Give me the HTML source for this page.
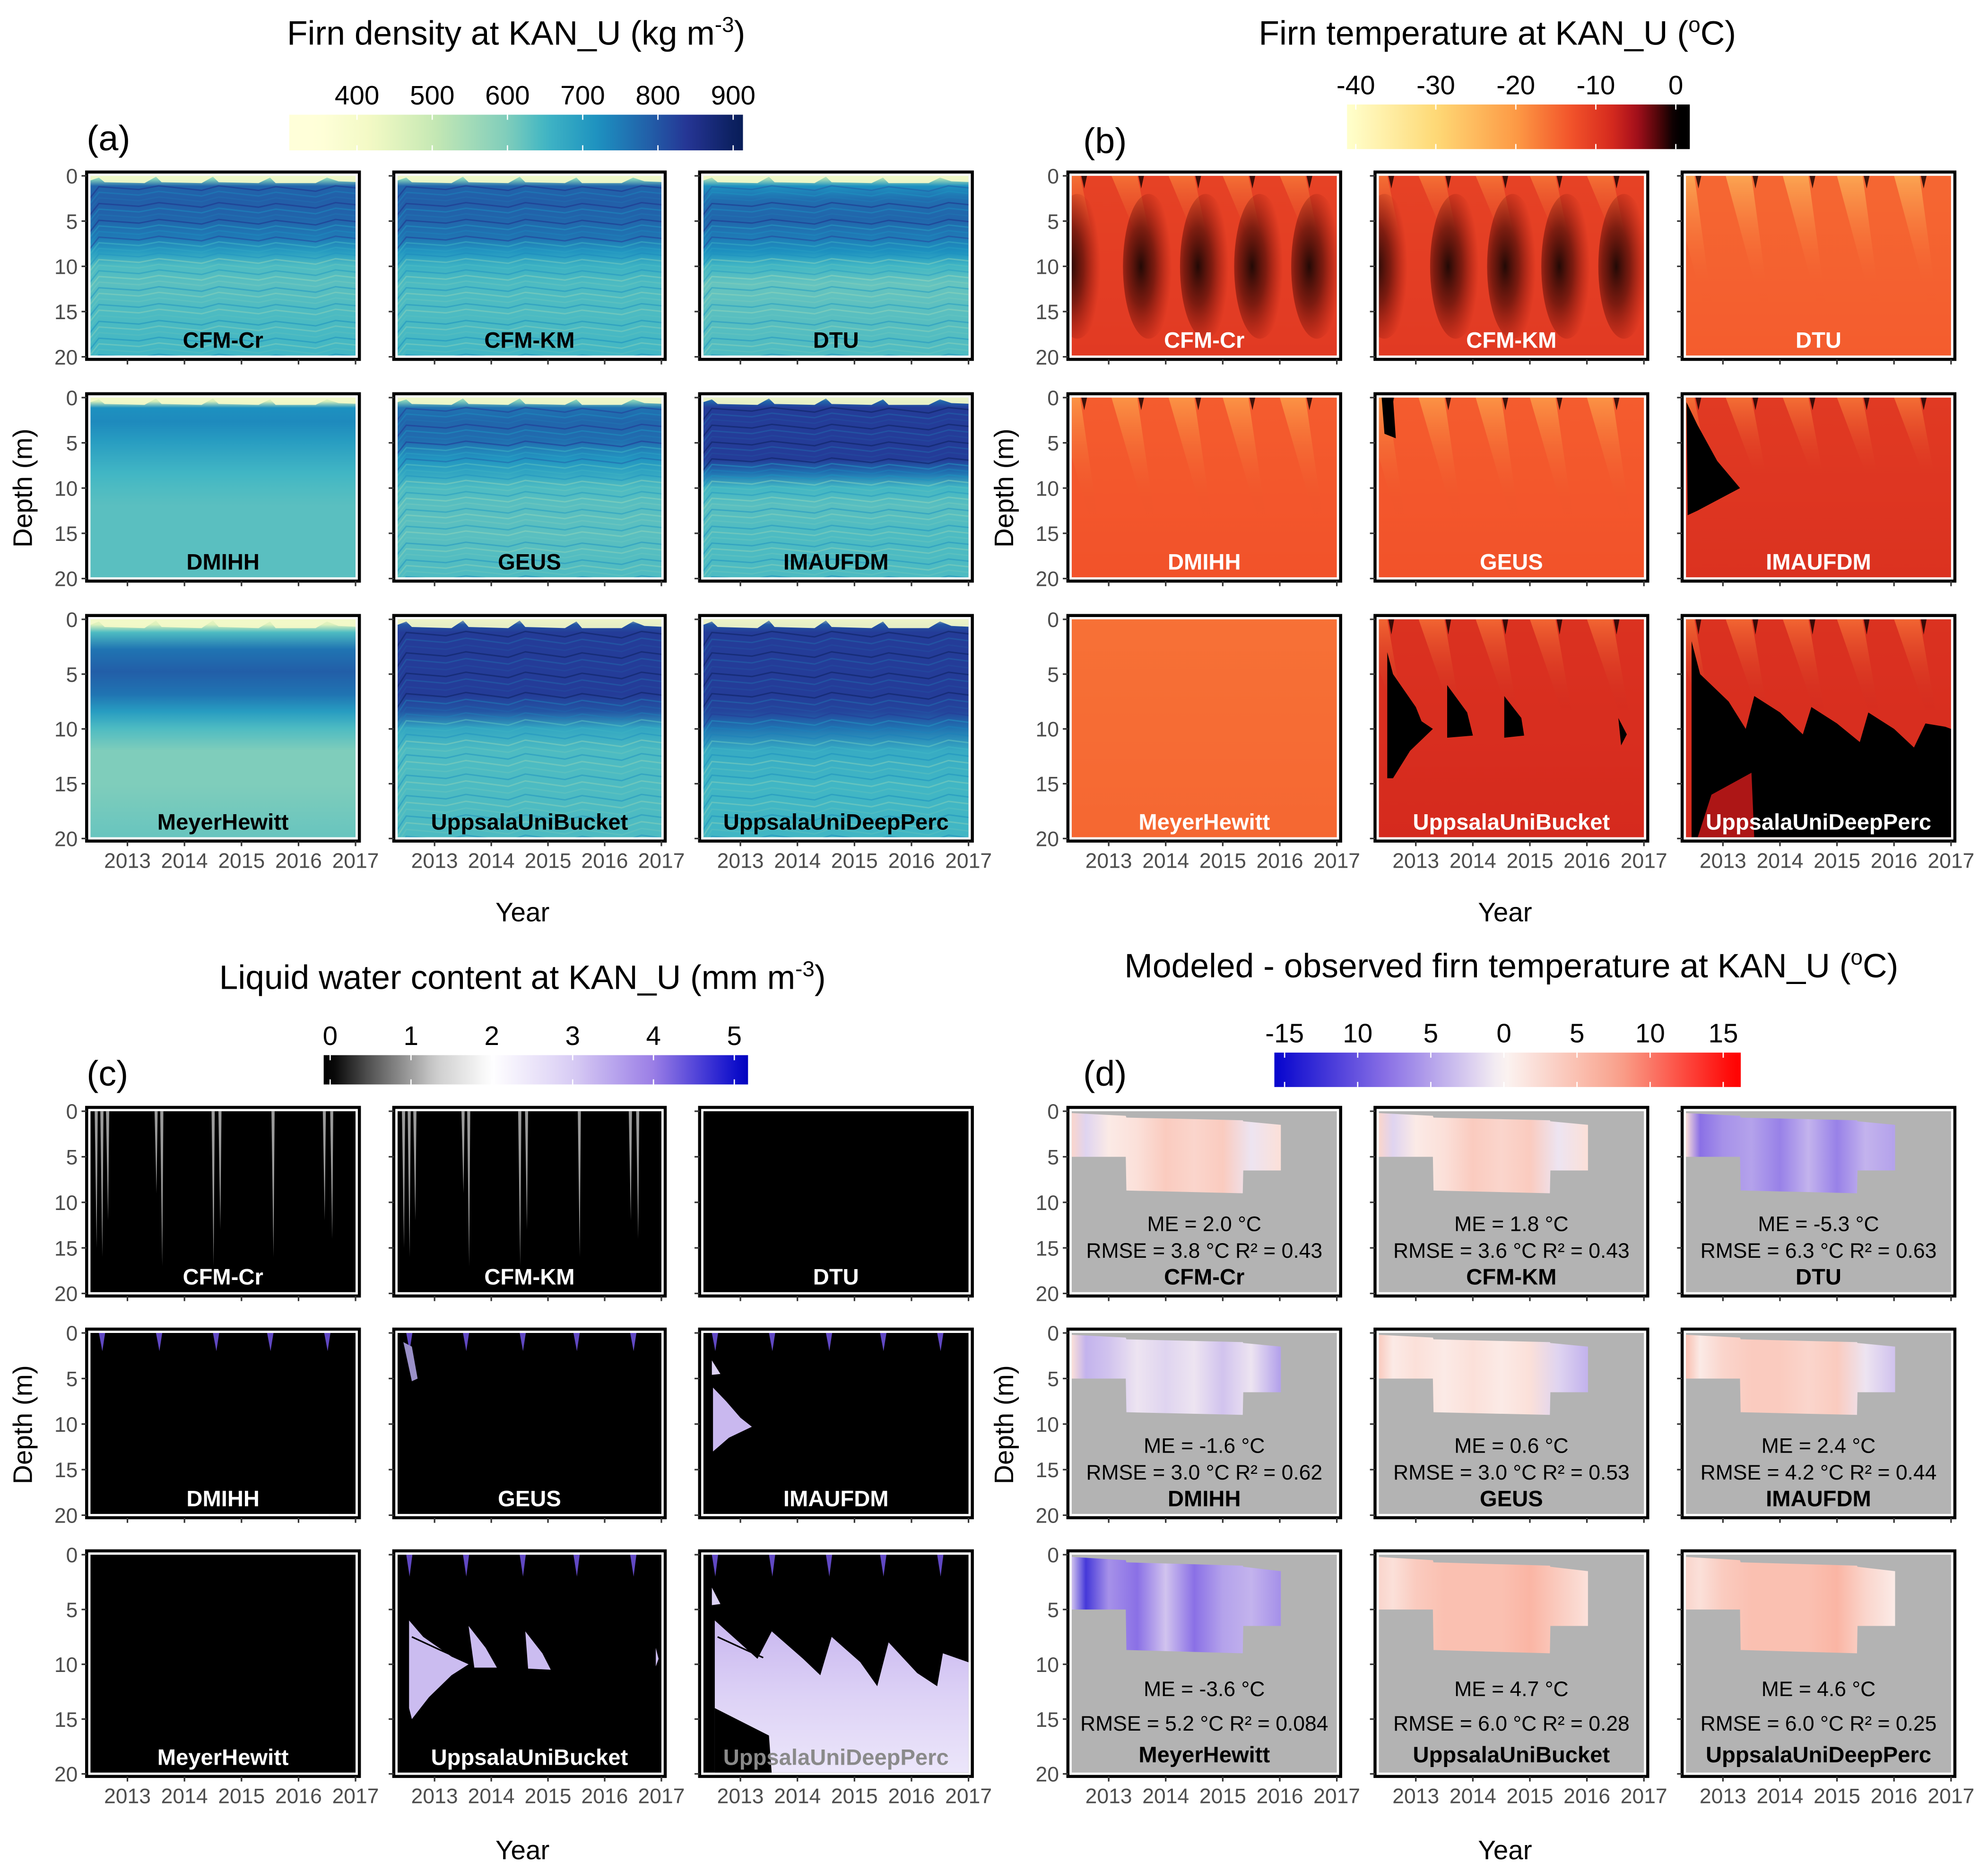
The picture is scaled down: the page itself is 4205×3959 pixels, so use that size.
<!DOCTYPE html>
<html><head><meta charset="utf-8">
<style>html,body{margin:0;padding:0;background:#fff}svg{display:block}</style>
</head><body>
<svg id="fig" xmlns="http://www.w3.org/2000/svg" width="4205" height="3959" viewBox="0 0 1560 1469" preserveAspectRatio="none" font-family="'Liberation Sans', sans-serif"></svg>
<script>
const models=["CFM-Cr","CFM-KM","DTU","DMIHH","GEUS","IMAUFDM","MeyerHewitt","UppsalaUniBucket","UppsalaUniDeepPerc"];
const yearTicks=[2013,2014,2015,2016,2017];
const depthTicks=[0,5,10,15,20];
const densBarTicks=[400,500,600,700,800,900];
const tempBarTicks=[-40,-30,-20,-10,0];
const lwcBarTicks=[0,1,2,3,4,5];
const biasBarTicks=[-15,-10,-5,0,5,10,15];
const biasBarLabels=["-15","10","5","0","5","10","15"];
// density profiles (kg m-3) at depths
const profileDepths=[0,0.8,1.5,3,5,7,8.5,10,12,15,20];
const densCFMCr=[420,600,780,790,780,750,700,640,630,640,650];
const densCFMKM=[420,600,780,790,780,760,710,660,640,640,650];
const densDTU=[430,560,720,770,780,750,720,650,620,630,640];
const densDMIHH=[430,470,720,730,700,670,650,640,630,630,630];
const densGEUS=[430,600,760,780,770,710,680,640,630,630,640];
const densIMAU=[430,780,830,830,830,830,760,650,630,640,640];
const densMeyer=[420,460,640,760,790,760,700,640,600,600,620];
const densBucket=[430,800,830,830,830,830,800,680,640,640,640];
const densDeep=[430,800,830,830,830,830,820,760,670,650,650];
const densProfiles=[densCFMCr,densCFMKM,densDTU,densDMIHH,densGEUS,densIMAU,densMeyer,densBucket,densDeep];
const densStriped=[1,1,1,0,1,1,0,1,1];
// temperature
const tempBase=[-9,-9,-13,-12,-12,-8,-14,-7,-7];
const tempCold=[-17,-17,-24,-21,-21,-17,-14,-16,-16];
const tempColdDepth=[9,9,14,13,13,10,0,9,9];
const tempDark=[1,1,0,0,0,0,0,0,0];
const summerYears=[2012.55,2013.55,2014.55,2015.5,2016.5];
const blackIMAU=[[2012.36,0.5],[2012.55,3],[2012.9,7],[2013.3,10],[2013.0,11],[2012.55,12.5],[2012.38,13]];
const blackBucket1=[[2012.5,3],[2012.6,5],[2013.0,8],[2013.1,9.3],[2013.3,10],[2012.9,12],[2012.6,14.5],[2012.5,14.5]];
const blackBucket2=[[2013.55,6],[2013.9,8.5],[2014.0,10.6],[2013.55,10.8]];
const blackBucket3=[[2014.55,7],[2014.85,9],[2014.9,10.6],[2014.55,10.8]];
const blackBucket4=[[2016.55,9],[2016.7,10.5],[2016.6,11.5]];
const blackDeep=[[2012.45,2],[2012.6,5],[2013.1,7.5],[2013.4,10],[2013.55,7],[2014.0,8.5],[2014.4,10.5],[2014.55,8],[2015.0,9.5],[2015.4,11.2],[2015.55,8.5],[2016.0,10],[2016.35,11.7],[2016.55,9.5],[2016.9,9.8],[2017.1,10.2],[2017.1,20],[2012.45,20]];
const redDeep=[[2012.55,20],[2012.8,16],[2013.5,14],[2013.55,20]];
// LWC
const spikeYears=[2012.45,2012.55,2012.65,2013.5,2013.6,2014.5,2014.62,2015.55,2016.45,2016.58];
const spikeDepths=[15,16,12,9,17,17,13,16,12,14];
const lavIMAU=[[2012.52,6],[2012.75,7.5],[2013.0,9.3],[2013.2,10.3],[2012.8,11.5],[2012.52,13]];
const lavBucket1=[[2012.55,6],[2012.8,7.5],[2013.3,9.3],[2013.6,10],[2013.3,11],[2012.9,13],[2012.6,15],[2012.55,14]];
const lavBucket2=[[2013.6,6.5],[2013.9,8.5],[2014.1,10.3],[2013.7,10.3]];
const lavBucket3=[[2014.6,7],[2014.9,9],[2015.05,10.5],[2014.65,10.4]];
const lavBucket4=[[2016.9,8.5],[2016.95,9.5],[2016.9,10.2]];
const lavDeep=[[2012.55,6],[2013.3,9.5],[2013.55,7],[2014.1,9.5],[2014.4,11],[2014.6,7.5],[2015.1,9.8],[2015.4,12],[2015.6,8],[2016.1,10.8],[2016.45,12],[2016.55,9],[2017.1,10],[2017.1,20],[2012.55,20]];
const blackDeepLwc=[[2012.55,14],[2013.5,16.5],[2013.55,20],[2012.55,20]];
// bias (model - observed)
const obsYears=[2012.33,2013.3,2013.31,2015.35,2015.36,2016.02];
const obsTop=[0.2,0.5,0.7,1.0,1.1,1.5];
const obsBottom=[5,5,8.7,9.0,6.5,6.5];
const biasYears=[2012.35,2012.6,2013.0,2013.5,2014.0,2014.5,2015.0,2015.5,2016.0];
const biasCFMCr=[3,-2,1,2,4,3,4,-1,2];
const biasCFMKM=[3,-2,1,2,4,3,4,-1,2];
const biasDTU=[2,-8,-6,-5,-7,-4,-7,-4,-5];
const biasDMIHH=[2,-4,-3,-1,-2,-1,-3,-1,-5];
const biasGEUS=[4,1,2,1,2,1,2,-2,-4];
const biasIMAU=[5,1,3,4,4,3,4,-1,-3];
const biasMeyer=[-3,-12,-6,-8,-3,-8,-5,-4,-6];
const biasBucket=[3,2,4,5,5,5,6,4,2];
const biasDeep=[3,2,4,5,5,5,6,3,1];
const biasSeries=[biasCFMCr,biasCFMKM,biasDTU,biasDMIHH,biasGEUS,biasIMAU,biasMeyer,biasBucket,biasDeep];
const meVals=["2.0","1.8","-5.3","-1.6","0.6","2.4","-3.6","4.7","4.6"];
const rmseVals=["3.8","3.6","6.3","3.0","3.0","4.2","5.2","6.0","6.0"];
const r2Vals=["0.43","0.43","0.63","0.62","0.53","0.44","0.084","0.28","0.25"];

const NS="http://www.w3.org/2000/svg";
const svg=document.getElementById("fig");
function el(tag,attrs,parent){const e=document.createElementNS(NS,tag);for(const k in attrs)e.setAttribute(k,attrs[k]);(parent||svg).appendChild(e);return e;}
const defs=el("defs",{});
function hex(c){return [parseInt(c.slice(1,3),16),parseInt(c.slice(3,5),16),parseInt(c.slice(5,7),16)];}
function interp(stops,v){if(v<=stops[0][0])return stops[0][1];for(let i=1;i<stops.length;i++){if(v<=stops[i][0]){const t=(v-stops[i-1][0])/(stops[i][0]-stops[i-1][0]);const a=hex(stops[i-1][1]),b=hex(stops[i][1]);return "rgb("+a.map((x,j)=>Math.round(x+(b[j]-x)*t)).join(",")+")";}}return stops[stops.length-1][1];}
const densStops=[[350,"#ffffd9"],[420,"#f2f9c4"],[500,"#c7e9b4"],[600,"#7fcdbb"],[650,"#41b6c4"],[720,"#1d91c0"],[790,"#225ea8"],[840,"#253494"],[910,"#081d58"]];
const tempStops=[[-41,"#ffffcc"],[-30,"#fed976"],[-20,"#fd9a45"],[-13,"#f2522a"],[-8,"#d52a1e"],[-5,"#a8101c"],[-2,"#4a0508"],[0,"#000000"]];
const lwcStops=[[0,"#000000"],[0.5,"#555555"],[1.3,"#cccccc"],[2,"#ffffff"],[3,"#d8ccf4"],[4,"#9a7ee6"],[5,"#1111cc"],[5.2,"#0000bb"]];
const biasStops=[[-16,"#0000cc"],[-8,"#8a70e6"],[0,"#fbf5f3"],[8,"#f9a08a"],[16,"#ff0000"]];
function grad(id,stops,horiz){const g=el("linearGradient",{id:id,x1:0,y1:0,x2:horiz?1:0,y2:horiz?0:1},defs);stops.forEach(s=>el("stop",{offset:s[0],"stop-color":s[1],"stop-opacity":s.length>2?s[2]:1},g));return "url(#"+id+")";}

const colsLeft=[[68,282],[309,522],[549,763]];
const colsRight=[[838,1052],[1079,1293],[1320,1534]];
const rowsTop=[[135,282],[309,456],[483,660]];
const rowsBot=[[869,1017],[1043,1191],[1217,1394]];
let gid=0;
const darkRad=el("radialGradient",{id:"darkrad",cx:0.35,cy:0.5,r:0.6},defs);
el("stop",{offset:0,"stop-color":"#000","stop-opacity":0.85},darkRad);
el("stop",{offset:0.45,"stop-color":"#2a0000","stop-opacity":0.55},darkRad);
el("stop",{offset:1,"stop-color":"#700000","stop-opacity":0},darkRad);
function makePanel(L,R,T,B,showX,name){
  const g=el("g",{});
  
  
  const s=(R-L-35)/4;
  const xs=yr=>L+32+(yr-2013)*s;
  const ys=d=>T+3+d*(B-T-5)/20;
  const cid="clip"+(gid++);
  const cp=el("clipPath",{id:cid},defs);
  el("rect",{x:L+3,y:T+3,width:R-L-6,height:B-T-6},cp);
  const inner=el("g",{"clip-path":"url(#"+cid+")"},g);
  const ax={g:g,inner:inner,xs:xs,ys:ys,L:L,R:R,T:T,B:B,s:s};
  ax.pts=arr=>arr.map(p=>xs(p[0]).toFixed(1)+","+ys(p[1]).toFixed(1)).join(" ");
  return ax;
}
function finishPanel(ax,showX,showY){
  const {g,L,R,T,B,xs,ys}=ax;
  el("rect",{x:L+1.5,y:T+1.5,width:R-L-3,height:B-T-3,fill:"none",stroke:"#fff","stroke-width":1.5},g);
  const border=el("rect",{x:L,y:T,width:R-L,height:B-T,fill:"none",stroke:"#000","stroke-width":2.4},g);
  
  
  depthTicks.forEach(d=>{
    el("line",{x1:L-4,x2:L,y1:ys(d),y2:ys(d),stroke:"#333","stroke-width":1.2},g);
    if(showY){
      const t=el("text",{x:L-7,y:ys(d)+6,"text-anchor":"end","font-size":16.5,fill:"#4d4d4d"},g);
      t.textContent=d;
      
      
    }
  });
  yearTicks.forEach(yr=>{
    el("line",{x1:xs(yr),x2:xs(yr),y1:B,y2:B+4,stroke:"#333","stroke-width":1.2},g);
    if(showX){
      const t=el("text",{x:xs(yr),y:B+21,"text-anchor":"middle","font-size":16.5,fill:"#4d4d4d"},g);
      t.textContent=yr;
      
      
    }
  });
}
function modelLabel(ax,name,color,dy){
  const t=el("text",{x:(ax.L+ax.R)/2,y:ax.B-(dy||9),"text-anchor":"middle","font-size":17.5,"font-weight":"bold",fill:color},ax.g);
  t.textContent=name;
  
  
}
function poly(ax,arr,fill,op){return el("polygon",{points:ax.pts(arr),fill:fill,opacity:op==null?1:op},ax.inner);}

function title(x,y,main,sup,tail){
  const t=el("text",{x:x,y:y,"text-anchor":"middle","font-size":26.5,fill:"#000"});
  
  
  const a=el("tspan",{},t);a.textContent=main;
  const b=el("tspan",{dy:-10,"font-size":17},t);b.textContent=sup;
  const c=el("tspan",{dy:10},t);c.textContent=tail;
}
function letter(x,y,s){const t=el("text",{x:x,y:y,"font-size":28,fill:"#000"});t.textContent=s;}
function axisTitles(cx,cyLeft,yx,yBase){
  const t=el("text",{x:cx,y:yBase,"text-anchor":"middle","font-size":21,fill:"#000"});t.textContent="Year";
  
  
  const d=el("text",{x:yx,y:cyLeft,"text-anchor":"middle","font-size":21,fill:"#000",transform:"rotate(-90 "+yx+" "+cyLeft+")"});d.textContent="Depth (m)";
  
  
}
function colorbar(x0,x1,y0,y1,dmin,dmax,stops,ticks,labels,name){
  const g=el("g",{});
  
  
  const st=[];for(let i=0;i<=40;i++){const v=dmin+(dmax-dmin)*i/40;st.push([i/40,interp(stops,v)]);}
  el("rect",{x:x0,y:y0,width:x1-x0,height:y1-y0,fill:grad("cb"+(gid++),st,true)},g);
  const sx=v=>x0+(v-dmin)/(dmax-dmin)*(x1-x0);
  ticks.forEach((v,i)=>{
    el("line",{x1:sx(v),x2:sx(v),y1:y0,y2:y0+4,stroke:"#fff","stroke-width":1},g);
    el("line",{x1:sx(v),x2:sx(v),y1:y1-4,y2:y1,stroke:"#fff","stroke-width":1},g);
    const t=el("text",{x:sx(v),y:y0-8,"text-anchor":"middle","font-size":21,fill:"#000"},g);
    t.textContent=labels?labels[i]:v;
    
    
  });
}

// ---------- Titles / colorbars ----------
title(405,35,"Firn density at KAN_U (kg m","-3",")");
title(1175,35,"Firn temperature at KAN_U (","o","C)");
title(410,776,"Liquid water content at KAN_U (mm m","-3",")");
title(1186,767,"Modeled - observed firn temperature at KAN_U (","o","C)");
letter(68,118,"(a)");letter(850,120,"(b)");letter(68,852,"(c)");letter(850,852,"(d)");
colorbar(227,583,90,118,310,913,densStops,densBarTicks,null,"density-colorbar");
colorbar(1057,1326,82,117,-41.1,1.75,tempStops,tempBarTicks,null,"temperature-colorbar");
colorbar(254,587,828,851,-0.08,5.17,lwcStops,lwcBarTicks,null,"lwc-colorbar");
colorbar(1000,1366,826,853,-15.7,16.2,biasStops,biasBarTicks,biasBarLabels,"bias-colorbar");
axisTitles(410,383,25,723);axisTitles(1181,383,795,723);
axisTitles(410,1118,25,1459);axisTitles(1181,1118,795,1459);

// ---------- Panels ----------
models.forEach((m,i)=>{
  const c=i%3,r=Math.floor(i/3),showX=r===2,showY=c===0;
  // (a) density
  let ax=makePanel(colsLeft[c][0],colsLeft[c][1],rowsTop[r][0],rowsTop[r][1],showX,"density-panel-"+m.toLowerCase());
  const prof=densProfiles[i];
  const st=profileDepths.map((d,k)=>[d/20,interp(densStops,prof[k])]);
  el("rect",{x:ax.L,y:ax.T,width:ax.R-ax.L,height:ax.B-ax.T,fill:grad("dg"+i,st,false)},ax.inner);
  if(densStriped[i]){
    for(let d=1.2,k=0;d<20;d+=0.62,k++){
      const base=prof[profileDepths.findIndex(x=>x>=d)]||650;
      const col=interp(densStops,base+(k%3===0?70:(k%3===1?-50:-20)));
      const wave=[[2012.3,d+1.6],[2012.5,d],[2013.2,d+0.3],[2013.55,d-0.1],[2014.3,d+0.4],[2014.6,d-0.1],[2015.3,d+0.4],[2015.6,d],[2016.3,d+0.5],[2016.65,d-0.1],[2017.1,d+0.2]];
      el("polyline",{points:ax.pts(wave),fill:"none",stroke:col,"stroke-width":1.1,opacity:0.55},ax.inner);
    }
  }
  const surf=[[2012.3,0],[2017.1,0],[2017.1,0.7],[2016.7,0.6],[2016.5,0.2],[2016.3,0.8],[2015.6,0.8],[2015.5,0.2],[2015.3,0.8],[2014.6,0.7],[2014.5,0.1],[2014.3,0.8],[2013.6,0.7],[2013.5,0.1],[2013.3,0.8],[2012.6,0.7],[2012.5,0.2],[2012.3,0.6]];
  poly(ax,surf,"#f2f9c8",0.95);
  modelLabel(ax,m,"#000");
  finishPanel(ax,showX,showY);

  // (b) temperature
  ax=makePanel(colsRight[c][0],colsRight[c][1],rowsTop[r][0],rowsTop[r][1],showX,"temperature-panel-"+m.toLowerCase());
  el("rect",{x:ax.L,y:ax.T,width:ax.R-ax.L,height:ax.B-ax.T,fill:grad("tg"+i,[[0,interp(tempStops,tempBase[i]-2)],[1,interp(tempStops,tempBase[i]-1)]],false)},ax.inner);
  if(tempColdDepth[i]>0){
    const cg=grad("tcd"+i,[[0,interp(tempStops,tempCold[i])],[1,interp(tempStops,tempBase[i]),0]],false);
    summerYears.forEach(yr=>{poly(ax,[[yr-0.5,0],[yr-0.05,0],[yr+0.25,tempColdDepth[i]],[yr+0.1,tempColdDepth[i]]],cg,0.8);});
  }
  if(tempDark[i]){
    summerYears.forEach((yr,k)=>{
      const cx=ax.xs(yr+(k===0?-0.1:0.15)), cy=ax.ys(10);
      el("ellipse",{cx:cx,cy:cy,rx:ax.s*0.45,ry:(ax.ys(8)-ax.ys(0)),fill:"url(#darkrad)"},ax.inner);
    });
  }
  if(tempColdDepth[i]>0){
    summerYears.forEach(yr=>{poly(ax,[[yr-0.03,0],[yr+0.07,0],[yr+0.02,1.4]],"#100",0.8);});
  }
  if(i===5)poly(ax,blackIMAU,"#000");
  if(i===4)poly(ax,[[2012.4,0],[2012.6,0],[2012.65,4.5],[2012.45,4]],"#000");
  if(i===7){[blackBucket1,blackBucket2,blackBucket3,blackBucket4].forEach(a=>poly(ax,a,"#000"));}
  if(i===8){poly(ax,blackDeep,"#000");poly(ax,redDeep,"#c01818",0.9);}
  modelLabel(ax,m,"#fff");
  finishPanel(ax,showX,showY);

  // (c) LWC
  ax=makePanel(colsLeft[c][0],colsLeft[c][1],rowsBot[r][0],rowsBot[r][1],showX,"lwc-panel-"+m.toLowerCase());
  el("rect",{x:ax.L,y:ax.T,width:ax.R-ax.L,height:ax.B-ax.T,fill:"#000"},ax.inner);
  if(i<2){spikeYears.forEach((yr,k)=>poly(ax,[[yr-0.025,0],[yr+0.03,0],[yr+0.01,spikeDepths[k]]],"#9a9a9a"));}
  if(i>=3&&i!==6){summerYears.forEach(yr=>poly(ax,[[yr-0.05,0],[yr+0.06,0],[yr+0.01,2]],"#6a50d8",0.9));}
  if(i===4)poly(ax,[[2012.45,1],[2012.6,1.5],[2012.7,5],[2012.6,5.3]],"#9a90c8");
  if(i===5){poly(ax,lavIMAU,"#c9b8ef");poly(ax,[[2012.5,3],[2012.65,4.5],[2012.5,4.6]],"#dcd2f4");}
  if(i===7){[lavBucket1,lavBucket2,lavBucket3,lavBucket4].forEach(a=>poly(ax,a,"#cbbcf0"));
    el("polyline",{points:ax.pts([[2012.6,7.5],[2013.1,8.7],[2013.4,9.4]]),fill:"none",stroke:"#000","stroke-width":1.2},ax.inner);}
  if(i===8){poly(ax,lavDeep,grad("lvd",[[0,"#c8b6ef"],[0.5,"#ddd2f6"],[1,"#ece6fa"]],false));poly(ax,blackDeepLwc,"#000");
    poly(ax,[[2012.5,3],[2012.65,4.5],[2012.5,4.6]],"#dcd2f4");
    el("polyline",{points:ax.pts([[2012.6,7.5],[2013.1,8.7],[2013.4,9.4]]),fill:"none",stroke:"#000","stroke-width":1.2},ax.inner);}
  modelLabel(ax,m,i===8?"#8a8a8a":"#fff");
  finishPanel(ax,showX,showY);

  // (d) bias
  ax=makePanel(colsRight[c][0],colsRight[c][1],rowsBot[r][0],rowsBot[r][1],showX,"bias-panel-"+m.toLowerCase());
  el("rect",{x:ax.L,y:ax.T,width:ax.R-ax.L,height:ax.B-ax.T,fill:"#b3b3b3"},ax.inner);
  const x0=obsYears[0],x1=obsYears[obsYears.length-1];
  const bst=biasYears.map((yr,k)=>[(yr-x0)/(x1-x0),interp(biasStops,biasSeries[i][k])]);
  const shape=obsYears.map((yr,k)=>[yr,obsTop[k]]).concat(obsYears.map((yr,k)=>[yr,obsBottom[k]]).reverse());
  const sh=poly(ax,shape,grad("bg"+i,bst,true));
  
  
  const tall=r===2;
  const t1=el("text",{x:(ax.L+ax.R)/2,y:ax.B-(tall?63:51),"text-anchor":"middle","font-size":16.5,fill:"#000"},ax.g);
  t1.textContent="ME = "+meVals[i]+" °C";
  
  
  const t2=el("text",{x:(ax.L+ax.R)/2,y:ax.B-(tall?36:30),"text-anchor":"middle","font-size":16.5,fill:"#000"},ax.g);
  t2.textContent="RMSE = "+rmseVals[i]+" °C  R² = "+r2Vals[i];
  t2.setAttribute("xml:space","preserve");
  
  
  modelLabel(ax,m,"#000",tall?11:9);
  finishPanel(ax,showX,showY);
});
</script>
</body></html>
